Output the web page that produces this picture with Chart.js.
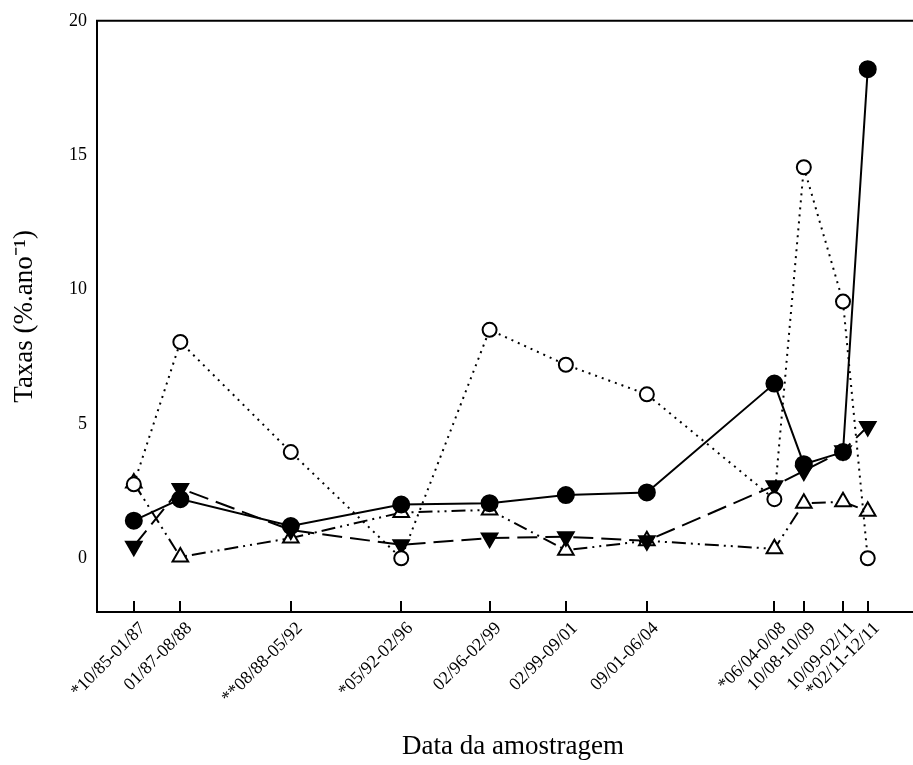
<!DOCTYPE html>
<html lang="pt">
<head>
    <meta charset="UTF-8">
    <title>Taxas por período de amostragem</title>
    <script src="https://cdn.jsdelivr.net/npm/chart.js"></script>
    <style>
        html, body { margin: 0; padding: 0; background: #fff; overflow: hidden; }
        #wrap { width: 940px; height: 765px; }
    </style>
</head>
<body>
    <div id="wrap"><canvas id="grafico"></canvas></div>

    <script>
        // períodos de amostragem (rótulos do eixo x)
        const periodos = [
            '*10/85-01/87', '01/87-08/88', '**08/88-05/92', '*05/92-02/96',
            '02/96-02/99', '02/99-09/01', '09/01-06/04', '*06/04-0/08',
            '10/08-10/09', '10/09-02/11', '*02/11-12/11'
        ];
        // fim de cada período, em anos decimais (posição no eixo x)
        const fimPeriodo = [1987.0, 1988.58, 1992.33, 1996.08, 1999.08, 2001.67,
                            2004.42, 2008.75, 2009.75, 2011.08, 2011.92];
        const inicio = 1985.75;
        const fim = 2014.0;

        // séries
        const circuloCheio = [1.4, 2.2, 1.2, 2.0, 2.05, 2.35, 2.45, 6.5, 3.5, 3.95, 18.2];
        const circuloVazio = [2.75, 8.05, 3.95, 0, 8.5, 7.2, 6.1, 2.2, 14.55, 9.55, 0];
        const trianguloCheio = [0.45, 2.6, 1.05, 0.5, 0.75, 0.8, 0.65, 2.7, 3.25, 4.0, 4.9];
        const trianguloVazio = [2.8, 0.05, 0.75, 1.7, 1.8, 0.3, 0.65, 0.35, 2.05, 2.1, 1.75];

        const yTicks = [0, 5, 10, 15, 20];

        const fonte = "'Liberation Serif', 'Times New Roman', serif";

        function pontos(valores) {
            return valores.map((v, i) => ({ x: fimPeriodo[i], y: v }));
        }

        // moldura superior e marcas internas do eixo x
        const moldura = {
            id: 'moldura',
            afterDraw(chart) {
                const ctx = chart.ctx;
                const area = chart.chartArea;
                const sx = chart.scales.x;
                ctx.save();
                ctx.strokeStyle = '#000';
                ctx.lineWidth = 2;
                ctx.beginPath();
                ctx.moveTo(area.left - 1, area.top);
                ctx.lineTo(area.right, area.top);
                fimPeriodo.forEach(v => {
                    const px = Math.round(sx.getPixelForValue(v));
                    ctx.moveTo(px, area.bottom);
                    ctx.lineTo(px, area.bottom - 11);
                });
                ctx.stroke();
                ctx.restore();
            }
        };

        new Chart(document.getElementById('grafico'), {
            type: 'line',
            data: {
                datasets: [
                    {
                        data: pontos(circuloCheio),
                        borderColor: '#000', borderWidth: 2,
                        pointStyle: 'circle', pointRadius: 8,
                        pointBackgroundColor: '#000', pointBorderColor: '#000'
                    },
                    {
                        data: pontos(circuloVazio),
                        borderColor: '#000', borderWidth: 2, borderDash: [2, 5],
                        pointStyle: 'circle', pointRadius: 7, pointBorderWidth: 2,
                        pointBackgroundColor: '#fff', pointBorderColor: '#000'
                    },
                    {
                        data: pontos(trianguloCheio),
                        borderColor: '#000', borderWidth: 2, borderDash: [20, 8],
                        pointStyle: 'triangle', pointRotation: 180, pointRadius: 9,
                        pointBackgroundColor: '#000', pointBorderColor: '#000'
                    },
                    {
                        data: pontos(trianguloVazio),
                        borderColor: '#000', borderWidth: 2, borderDash: [14, 5, 2, 5, 2, 5],
                        pointStyle: 'triangle', pointRadius: 9, pointBorderWidth: 2,
                        pointBackgroundColor: '#fff', pointBorderColor: '#000'
                    }
                ]
            },
            options: {
                responsive: true,
                maintainAspectRatio: false,
                animation: false,
                layout: { padding: { top: 14, right: 0, left: 0, bottom: 0 } },
                plugins: {
                    legend: { display: false },
                    tooltip: { enabled: false }
                },
                scales: {
                    x: {
                        type: 'linear',
                        min: inicio,
                        max: fim,
                        afterBuildTicks: s => { s.ticks = fimPeriodo.map(v => ({ value: v })); },
                        afterFit: s => { s.height = 153; },
                        grid: { display: false, drawTicks: false },
                        border: { display: true, color: '#000', width: 2 },
                        ticks: {
                            autoSkip: false,
                            minRotation: 45,
                            maxRotation: 45,
                            padding: 6,
                            labelOffset: 9,
                            color: '#000',
                            font: { family: fonte, size: 18 },
                            callback: v => {
                                const i = fimPeriodo.indexOf(v);
                                return i >= 0 ? periodos[i] : '';
                            }
                        },
                        title: {
                            display: true,
                            text: 'Data da amostragem',
                            color: '#000',
                            font: { family: fonte, size: 27 },
                            padding: { top: 4, bottom: 2 }
                        }
                    },
                    y: {
                        min: -2,
                        max: 20,
                        afterBuildTicks: s => { s.ticks = yTicks.map(v => ({ value: v })); },
                        afterFit: s => { s.width = 97; },
                        grid: { display: false, drawTicks: false },
                        border: { display: true, color: '#000', width: 2 },
                        ticks: {
                            padding: 10,
                            color: '#000',
                            font: { family: fonte, size: 18 }
                        },
                        title: {
                            display: true,
                            text: 'Taxas (%.ano⁻¹)',
                            color: '#000',
                            font: { family: fonte, size: 27 },
                            padding: { top: 9, bottom: 0 }
                        }
                    }
                }
            },
            plugins: [moldura]
        });
    </script>
</body>
</html>
